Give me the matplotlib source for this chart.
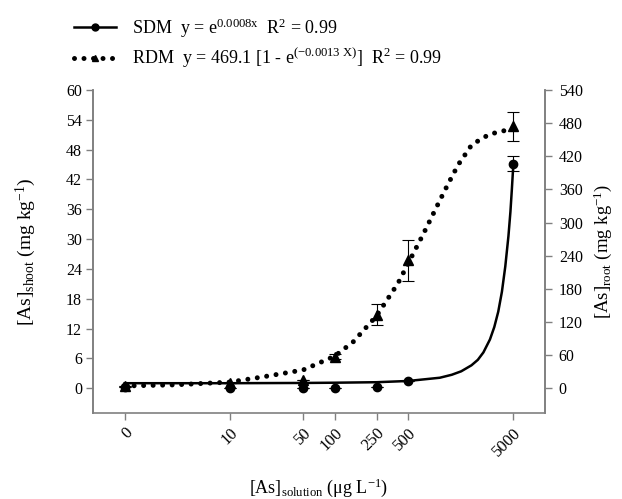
import numpy as np
import matplotlib.pyplot as plt
from matplotlib.lines import Line2D

plt.rcParams['font.family'] = ['Liberation Serif', 'DejaVu Serif']
plt.rcParams['mathtext.fontset'] = 'custom'
plt.rcParams['mathtext.rm'] = 'Liberation Serif'
plt.rcParams['mathtext.it'] = 'Liberation Serif:italic'

# concentrations in solution; 0 is drawn at the position of 1 on the log axis
conc = [0, 10, 50, 100, 250, 500, 5000]
conc_pos = [1, 10, 50, 100, 250, 500, 5000]
tick_labels = ['0', '10', '50', '100', '250', '500', '5000']

# measured shoot (SDM, left axis) and root (RDM, right axis)
sdm_mean = [0.2, 0.1, 0.1, 0.1, 0.3, 1.4, 45.2]
sdm_err = [0.0, 0.0, 0.0, 0.0, 0.0, 0.0, 1.5]
rdm_mean = [4, 10, 14, 57, 133, 232, 474]
rdm_err = [0, 0, 0, 5, 19, 37, 27]

# fitted curves
sdm_fit_x = [1, 10, 50, 100, 250, 500, 1000, 1300, 1600, 2000, 2300, 2600, 3000,
             3300, 3600, 3900, 4200, 4500, 4700, 4850, 5000]
sdm_fit_y = [1.0, 1.0, 1.05, 1.1, 1.2, 1.45, 2.1, 2.7, 3.4, 4.6, 5.7, 7.2, 9.8,
             12.3, 15.4, 19.4, 24.5, 30.6, 35.5, 40.0, 44.7]
rdm_fit_x = [1, 3, 10, 20, 50, 100, 150, 250, 400, 500, 700, 1000, 1200, 1500,
             1700, 2000, 2500, 3000, 4000, 5000]
rdm_fit_y = [4, 6, 11, 20, 33, 58, 84, 131, 190, 226, 280, 340, 370, 405,
             420, 440, 452, 460, 466, 468]

grey = '#808080'

fig = plt.figure(figsize=(6.22, 4.99), dpi=100)
ax = fig.add_axes([0.1495, 0.1723, 0.7265, 0.6473])
ax2 = ax.twinx()

dot_style = dict(linestyle=(0, (0.001, 1.9)), linewidth=3.6, dash_capstyle='round')

ax.plot(sdm_fit_x, sdm_fit_y, color='black', linewidth=1.8, zorder=3)
ax.errorbar(conc_pos, sdm_mean, yerr=sdm_err, fmt='o', color='black', ms=6,
            ecolor='black', elinewidth=0.8, capsize=4, capthick=0.8, zorder=4)

ax2.plot(rdm_fit_x, rdm_fit_y, color='black', **dot_style, zorder=3)
ax2.errorbar(conc_pos, rdm_mean, yerr=rdm_err, fmt='^', color='black', ms=6.5,
             ecolor='black', elinewidth=0.8, capsize=4, capthick=0.8, zorder=4)

ax.set_xscale('log')
ax.set_xlim(0.5, 10000)
ax.set_ylim(-5, 60)
ax2.set_ylim(-45, 540)
ax.set_xticks(conc_pos)
ax.set_xticklabels(tick_labels, rotation=45, ha='right', va='top',
                   rotation_mode='anchor', fontsize=12)
ax.xaxis.set_minor_locator(plt.NullLocator())
ax.set_yticks(np.arange(0, 61, 6))
ax2.set_yticks(np.arange(0, 541, 60))

for a in (ax, ax2):
    a.spines['top'].set_visible(False)
    for s in ('left', 'right', 'bottom'):
        a.spines[s].set_color(grey)
        a.spines[s].set_linewidth(1.2)
    a.tick_params(direction='out', color=grey, length=5, width=1.0)
    a.tick_params(axis='y', labelsize=11.5)
ax2.spines['bottom'].set_visible(False)
ax.tick_params(axis='y', pad=3)
ax2.tick_params(axis='y', pad=5)

ax.set_ylabel(r'[As]$_{\mathrm{shoot}}$ (mg kg$^{\mathrm{-1}}$)', fontsize=14, labelpad=20)
ax2.set_ylabel(r'[As]$_{\mathrm{root}}$ (mg kg$^{\mathrm{-1}}$)', fontsize=13.5, rotation=90, labelpad=6)
ax.set_xlabel(r'[As]$_{\mathrm{solution}}$ ($\mathrm{\mu}$g L$^{\mathrm{-1}}$)', fontsize=13, labelpad=12)

handles = [
    Line2D([], [], color='black', linewidth=1.8, marker='o', ms=5),
    Line2D([], [], color='black', marker='^', ms=5, **dot_style),
]
labels = [
    r'SDM  y = e$^{\mathrm{0.0008x}}$  R$^{\mathrm{2}}$ = 0.99',
    r'RDM  y = 469.1 [1 - e$^{\mathrm{(-0.0013\ X)}}$]  R$^{\mathrm{2}}$ = 0.99',
]
fig.legend(handles, labels, loc='upper left', bbox_to_anchor=(0.093, 1.0),
           frameon=False, fontsize=13, handlelength=2.3, handletextpad=0.9,
           labelspacing=0.35, numpoints=1)

fig.savefig('out.png', dpi=100)
